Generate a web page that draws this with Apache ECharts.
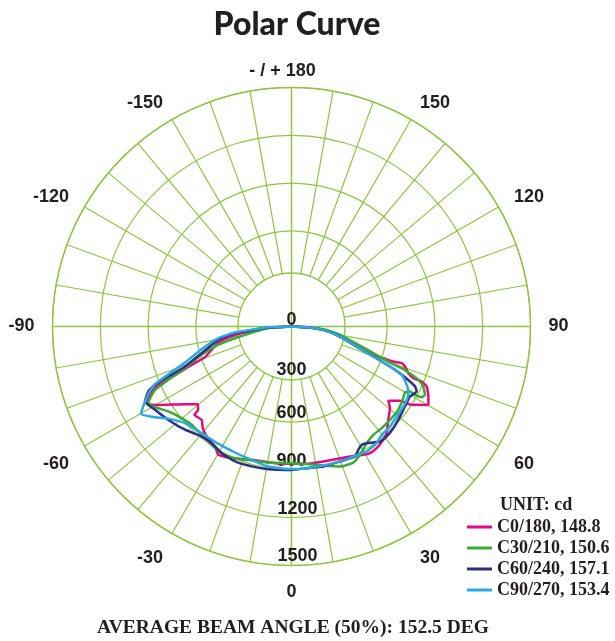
<!DOCTYPE html>
<html>
<head>
<meta charset="utf-8">
<script src="https://cdn.jsdelivr.net/npm/echarts@6/dist/echarts.min.js"></script>
<style>
html,body{margin:0;padding:0;background:#fff;}
#chart{width:615px;height:641px;}
</style>
</head>
<body>
<div id="chart"></div>
<script>
// ---- data (angle in degrees, intensity in cd) ----
const seriesNames = ['C0/180, 148.8', 'C30/210, 150.6', 'C60/240, 157.1', 'C90/270, 153.4'];
const radialTicks = [0, 300, 600, 900, 1200, 1500];
const angleLabels = [-150, -120, -90, -60, -30, 0, 30, 60, 90, 120, 150];
const upperAngleLabels = [-150, -120, 120, 150];

const c0_180 = [
  [-90, 0], [-86.7, 140], [-81.6, 358], [-77.7, 470], [-70.5, 576], [-69, 671], [-67.6, 768],
  [-66.8, 841], [-65.9, 938], [-63.8, 996], [-61.8, 1027], [-59.5, 970], [-53.9, 827],
  [-50.3, 764], [-48.2, 786], [-47.7, 824], [-43.9, 813], [-41.1, 847], [-37.6, 872],
  [-32.5, 893], [-29.7, 927], [-24.4, 908], [-16.6, 873], [-6.9, 864], [0, 862],
  [6.3, 867], [13.3, 870], [24.2, 895], [29.2, 923], [31.8, 935], [35, 932], [39, 915],
  [41.7, 897], [46, 844], [50.3, 803], [52.5, 766], [55.6, 825], [56.9, 900], [60.2, 990],
  [62.9, 965], [66.1, 928], [67.1, 887], [67, 831], [68.2, 790], [70.6, 755], [71.6, 729],
  [71, 676], [71, 610], [70.9, 543], [72.9, 428], [78.3, 311], [84, 201], [87.5, 95], [90, 0]
];
const c30_210 = [
  [-90, 0], [-86.5, 140], [-78.3, 362], [-76, 473], [-72.5, 591], [-68.6, 718], [-66.6, 842],
  [-65.1, 944], [-63.1, 995], [-61.8, 1019], [-59.4, 995], [-55.4, 939], [-50.2, 898],
  [-45.4, 879], [-41.6, 881], [-37.8, 887], [-32.2, 902], [-27.4, 907], [-23.2, 899],
  [-16.6, 877], [-9.7, 866], [0, 858], [6.3, 869], [12.9, 895], [19.1, 930], [24.4, 938],
  [28.1, 913], [32.8, 871], [37.1, 852], [41.6, 853], [46.5, 852], [52, 850], [56.6, 836],
  [59.8, 824], [61.3, 848], [61, 886], [61.5, 930], [62.9, 941], [65.5, 909], [67.2, 864],
  [68.1, 813], [69.1, 751], [69.9, 658], [72, 540], [75.1, 423], [80.3, 309], [85.2, 200], [90, 0]
];
const c60_240 = [
  [-90, 0], [-86.7, 146], [-83.3, 357], [-79.7, 467], [-73.5, 588], [-69.4, 714], [-67.9, 834],
  [-66.9, 932], [-65.6, 987], [-62.9, 1033], [-58.6, 1004], [-52.8, 970], [-45.9, 931],
  [-39.2, 891], [-34.4, 887], [-28.9, 908], [-22.7, 918], [-15.9, 913], [-9.2, 907], [0, 900],
  [6.1, 894], [12.8, 901], [19.8, 900], [26, 908], [28.5, 880], [30.7, 863], [32.8, 871],
  [37.6, 911], [40.9, 913], [45, 903], [50.3, 885], [54.8, 871], [59.4, 864], [62.6, 885],
  [64.1, 862], [65.1, 820], [66.7, 741], [67.9, 667], [69.9, 547], [72.9, 428], [78.3, 311],
  [84, 201], [87.5, 95], [90, 0]
];
const c90_270 = [
  [-90, 0], [-88.4, 145], [-83.9, 357], [-80.9, 465], [-75.8, 582], [-71.3, 706], [-68.8, 829],
  [-67.1, 930], [-64.8, 993], [-62.5, 1041], [-59.8, 1093], [-56.4, 1028], [-53.2, 965],
  [-47.8, 903], [-40.1, 875], [-31.9, 868], [-24.2, 867], [-19.6, 870], [-9.4, 891], [0, 895],
  [6.1, 894], [12.9, 895], [19.8, 900], [26.1, 904], [31, 915], [36.1, 906], [39.8, 885],
  [44.6, 881], [49.4, 869], [54.4, 863], [58.3, 855], [60.9, 839], [63.7, 802], [66.3, 755],
  [67.9, 667], [69.9, 547], [72.9, 428], [78.3, 311], [84, 201], [87.5, 95], [90, 0]
];
const curves = [c0_180, c30_210, c60_240, c90_270];
const colors = ['#e5097f', '#3aaa35', '#2b2f86', '#27a9e1'];

// ---- chart ----
const GRID = '#8cc63f';
const TXT = '#231f20';
const LABEL_FONT = { fontFamily: 'Liberation Sans', fontWeight: 'bold', fontSize: 18, color: TXT };
const chart = echarts.init(document.getElementById('chart'));
const toAxisAngle = a => (a < 0 ? a + 360 : a);

const option = {
  backgroundColor: '#fff',
  animation: false,
  title: [
    { text: 'Polar Curve', left: 297, top: 9, textAlign: 'center', padding: 0,
      textStyle: { fontFamily: 'Lato', fontWeight: 900, fontSize: 32, color: TXT } },
    { text: 'UNIT: cd', left: 500, top: 496, padding: 0,
      textStyle: { fontFamily: 'Liberation Serif', fontWeight: 'bold', fontSize: 18, color: TXT } },
    { text: 'AVERAGE BEAM ANGLE (50%): 152.5 DEG', left: 293, top: 618, textAlign: 'center', padding: 0,
      textStyle: { fontFamily: 'Liberation Serif', fontWeight: 'bold', fontSize: 19.5, color: TXT } }
  ],
  legend: {
    orient: 'vertical', left: 467, top: 518, itemGap: 3, padding: 0,
    icon: 'rect', itemWidth: 25, itemHeight: 3,
    data: seriesNames,
    textStyle: { fontFamily: 'Liberation Serif', fontWeight: 'bold', fontSize: 18, color: TXT }
  },
  polar: [
    { center: [291.5, 326.5], radius: [53.5, 239] },
    { center: [291.5, 326.5], radius: [0, 239] }
  ],
  angleAxis: [
    {
      polarIndex: 0, type: 'value', min: 0, max: 360, interval: 10,
      startAngle: 270, clockwise: false,
      axisLine: { show: true, lineStyle: { color: GRID, width: 1.3 } },
      axisTick: { show: false },
      splitLine: { show: true, lineStyle: { color: GRID, width: 1.2 } },
      axisLabel: Object.assign({
        margin: 18,
        formatter: v => {
          const d = v > 180 ? v - 360 : v;
          if (angleLabels.indexOf(d) < 0) return '';
          return upperAngleLabels.indexOf(d) >= 0 ? '{u|' + d + '}' : '{n|' + d + '}';
        },
        rich: {
          u: Object.assign({ lineHeight: 2 }, LABEL_FONT),
          n: Object.assign({}, LABEL_FONT)
        }
      }, LABEL_FONT)
    },
    {
      polarIndex: 1, type: 'value', min: 0, max: 360, interval: 90,
      startAngle: 270, clockwise: false,
      axisLine: { show: false },
      axisTick: { show: false },
      splitLine: { show: true, lineStyle: { color: GRID, width: 1.3 } },
      axisLabel: Object.assign({
        margin: 7,
        formatter: v => (v === 180 ? '{t|- / + 180}{p|}' : ''),
        rich: { t: Object.assign({}, LABEL_FONT), p: { width: 18 } }
      }, LABEL_FONT)
    }
  ],
  radiusAxis: [
    { polarIndex: 0, type: 'value', min: 0, max: 1, show: false },
    {
      polarIndex: 1, type: 'value', min: 0, max: 1500, interval: 300,
      axisLine: { show: false }, axisTick: { show: false },
      splitLine: { show: true, lineStyle: {
        color: ['rgba(0,0,0,0)', 'rgba(0,0,0,0)', GRID, GRID, GRID, GRID], width: 1.2 } },
      axisLabel: Object.assign({
        margin: 0, align: 'center', verticalAlign: 'bottom',
        formatter: v => {
          if (radialTicks.indexOf(v) < 0) return '';
          if (v === 0) return '{z|0}';
          if (v === 300) return '{s|300}';
          return String(v).length >= 4 ? '{p|}{v|' + v + '}' : '{v|' + v + '}';
        },
        rich: {
          p: { width: 12 },
          v: Object.assign({}, LABEL_FONT),
          s: Object.assign({ lineHeight: 8 }, LABEL_FONT),
          z: Object.assign({ lineHeight: 12 }, LABEL_FONT)
        }
      }, LABEL_FONT)
    }
  ],
  series: curves.map((c, i) => ({
    name: seriesNames[i],
    type: 'line',
    coordinateSystem: 'polar',
    polarIndex: 1,
    showSymbol: false,
    smooth: 0.15,
    color: colors[i],
    lineStyle: { width: 2.5, color: colors[i] },
    data: c.map(p => [p[1], toAxisAngle(p[0])])
  }))
};
chart.setOption(option);
</script>
</body>
</html>
